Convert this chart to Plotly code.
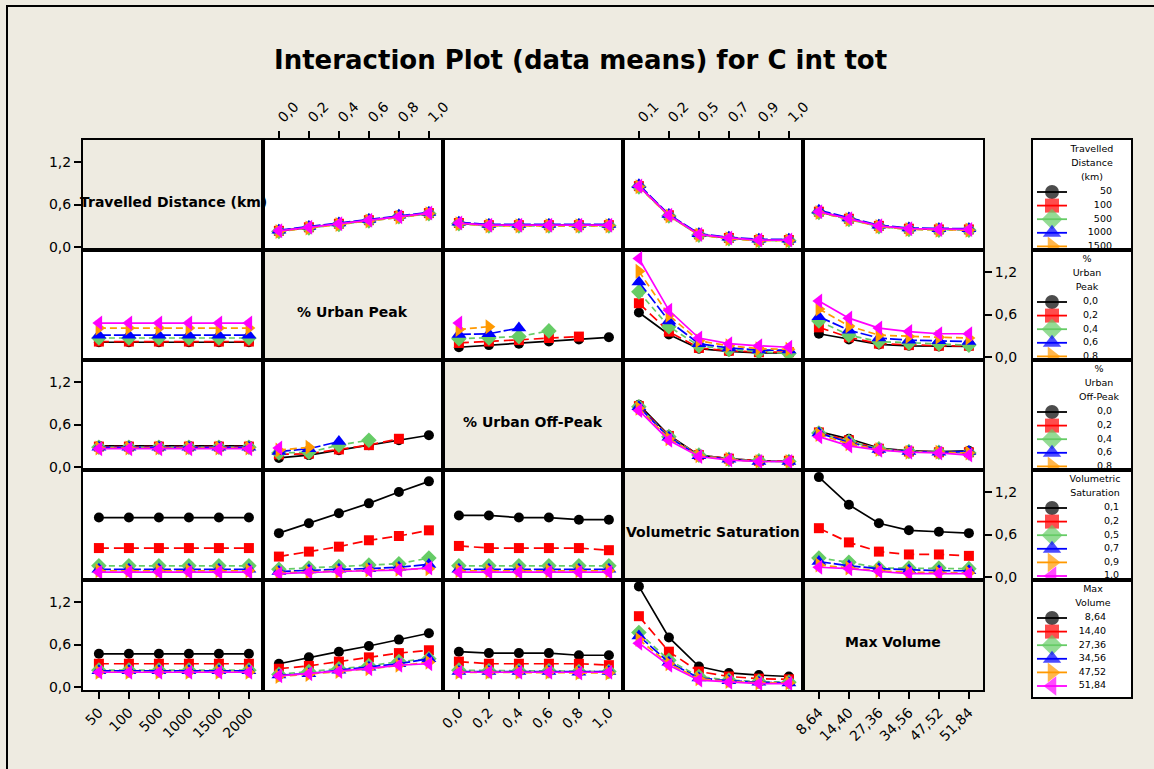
import plotly.graph_objects as go

# ---------------------------------------------------------------- factors
factor_names = ["Travelled Distance (km)", "% Urban Peak", "% Urban Off-Peak",
                "Volumetric Saturation", "Max Volume"]
legend_titles = [["Travelled", "Distance", "(km)"], ["%", "Urban", "Peak"],
                 ["%", "Urban", "Off-Peak"], ["Volumetric", "Saturation"],
                 ["Max", "Volume"]]
distance_levels = ["50", "100", "500", "1000", "1500", "2000"]
peak_levels = ["0,0", "0,2", "0,4", "0,6", "0,8", "1,0"]
offpeak_levels = ["0,0", "0,2", "0,4", "0,6", "0,8", "1,0"]
saturation_levels = ["0,1", "0,2", "0,5", "0,7", "0,9", "1,0"]
volume_levels = ["8,64", "14,40", "27,36", "34,56", "47,52", "51,84"]
levels = [distance_levels, peak_levels, offpeak_levels, saturation_levels, volume_levels]

y_ticks = [0.0, 0.6, 1.2]
y_tick_text = ["0,0", "0,6", "1,2"]

# ------------------------------------------------ means of C int tot
# each array: one row per level of the grouping factor, one value per x level
td_up = [[0.23, 0.28, 0.33, 0.38, 0.43, 0.48], [0.23, 0.28, 0.33, 0.38, 0.44, 0.48],
         [0.22, 0.27, 0.32, 0.37, 0.43, 0.47], [0.24, 0.29, 0.34, 0.39, 0.45, 0.49],
         [0.22, 0.27, 0.32, 0.37, 0.42, 0.47], [0.23, 0.28, 0.33, 0.38, 0.43, 0.48]]
td_uo = [[0.34, 0.31, 0.31, 0.31, 0.31, 0.31], [0.34, 0.31, 0.31, 0.31, 0.31, 0.31],
         [0.33, 0.30, 0.30, 0.30, 0.30, 0.30], [0.35, 0.32, 0.32, 0.32, 0.32, 0.32],
         [0.33, 0.30, 0.30, 0.30, 0.30, 0.30], [0.34, 0.31, 0.31, 0.31, 0.31, 0.31]]
td_vs = [[0.86, 0.45, 0.18, 0.13, 0.10, 0.10], [0.86, 0.45, 0.18, 0.13, 0.10, 0.10],
         [0.85, 0.44, 0.17, 0.12, 0.09, 0.09], [0.88, 0.46, 0.19, 0.14, 0.11, 0.11],
         [0.85, 0.44, 0.17, 0.12, 0.09, 0.09], [0.86, 0.45, 0.18, 0.13, 0.10, 0.10]]
td_mv = [[0.50, 0.40, 0.30, 0.26, 0.25, 0.25], [0.50, 0.40, 0.30, 0.26, 0.25, 0.25],
         [0.49, 0.39, 0.29, 0.25, 0.24, 0.24], [0.52, 0.41, 0.31, 0.27, 0.26, 0.26],
         [0.49, 0.39, 0.29, 0.25, 0.24, 0.24], [0.50, 0.40, 0.30, 0.26, 0.25, 0.25]]

up_td = [[0.21] * 6, [0.22] * 6, [0.27] * 6, [0.31] * 6, [0.41] * 6, [0.48] * 6]
up_uo = [[0.14, 0.17, 0.19, 0.22, 0.25, 0.28], [0.20, 0.22, 0.24, 0.27, 0.29, None],
         [0.26, 0.27, 0.29, 0.37, None, None], [0.32, 0.33, 0.41, None, None, None],
         [0.39, 0.43, None, None, None, None], [0.48, None, None, None, None, None]]
up_vs = [[0.63, 0.32, 0.12, 0.08, 0.06, 0.06], [0.76, 0.36, 0.13, 0.09, 0.07, 0.07],
         [0.92, 0.43, 0.16, 0.11, 0.08, 0.05], [1.06, 0.51, 0.19, 0.13, 0.10, 0.10],
         [1.21, 0.59, 0.23, 0.16, 0.12, 0.11], [1.39, 0.66, 0.27, 0.19, 0.16, 0.14]]
up_mv = [[0.33, 0.25, 0.18, 0.16, 0.15, 0.15], [0.42, 0.28, 0.19, 0.17, 0.16, 0.16],
         [0.51, 0.31, 0.22, 0.20, 0.19, 0.17], [0.57, 0.38, 0.27, 0.24, 0.23, 0.22],
         [0.68, 0.44, 0.31, 0.29, 0.28, 0.27], [0.79, 0.55, 0.41, 0.36, 0.33, 0.33]]

uo_td = [[0.30] * 6, [0.29] * 6, [0.28] * 6, [0.28] * 6, [0.27] * 6, [0.26] * 6]
uo_up = [[0.13, 0.17, 0.24, 0.31, 0.38, 0.45], [0.18, 0.19, 0.25, 0.31, 0.40, None],
         [0.20, 0.21, 0.31, 0.38, None, None], [0.22, 0.26, 0.36, None, None, None],
         [0.24, 0.28, None, None, None, None], [0.27, None, None, None, None, None]]
uo_vs = [[0.88, 0.45, 0.17, 0.12, 0.09, 0.09], [0.86, 0.44, 0.17, 0.12, 0.09, 0.09],
         [0.85, 0.43, 0.17, 0.11, 0.09, 0.08], [0.85, 0.42, 0.16, 0.11, 0.08, 0.08],
         [0.83, 0.40, 0.16, 0.11, 0.08, 0.08], [0.80, 0.38, 0.15, 0.10, 0.08, 0.08]]
uo_mv = [[0.50, 0.40, 0.27, 0.23, 0.22, 0.23], [0.49, 0.38, 0.26, 0.22, 0.21, 0.21],
         [0.48, 0.36, 0.26, 0.22, 0.21, 0.20], [0.48, 0.35, 0.25, 0.22, 0.21, 0.22],
         [0.46, 0.33, 0.25, 0.21, 0.21, 0.20], [0.43, 0.30, 0.24, 0.21, 0.20, 0.17]]

vs_td = [[0.84] * 6, [0.41] * 6, [0.16] * 6, [0.11] * 6, [0.09] * 6, [0.07] * 6]
vs_up = [[0.62, 0.76, 0.90, 1.04, 1.20, 1.35], [0.29, 0.36, 0.43, 0.52, 0.58, 0.66],
         [0.11, 0.13, 0.15, 0.17, 0.19, 0.27], [0.08, 0.10, 0.11, 0.12, 0.14, 0.18],
         [0.06, 0.07, 0.08, 0.10, 0.11, 0.12], [0.05, 0.07, 0.08, 0.09, 0.10, 0.13]]
vs_uo = [[0.87, 0.87, 0.84, 0.84, 0.81, 0.81], [0.44, 0.41, 0.41, 0.41, 0.41, 0.38],
         [0.16, 0.16, 0.16, 0.16, 0.16, 0.16], [0.11, 0.11, 0.11, 0.11, 0.11, 0.11],
         [0.09, 0.09, 0.09, 0.09, 0.09, 0.09], [0.07, 0.07, 0.07, 0.07, 0.07, 0.07]]
vs_mv = [[1.41, 1.02, 0.76, 0.66, 0.64, 0.62], [0.69, 0.49, 0.36, 0.32, 0.32, 0.30],
         [0.27, 0.21, 0.13, 0.13, 0.13, 0.12], [0.22, 0.16, 0.12, 0.10, 0.09, 0.09],
         [0.17, 0.13, 0.09, 0.07, 0.06, 0.06], [0.14, 0.12, 0.08, 0.05, 0.05, 0.05]]

mv_td = [[0.47] * 6, [0.33] * 6, [0.24] * 6, [0.23] * 6, [0.21] * 6, [0.21] * 6]
mv_up = [[0.33, 0.42, 0.50, 0.58, 0.67, 0.76], [0.26, 0.30, 0.36, 0.42, 0.48, 0.52],
         [0.18, 0.22, 0.26, 0.30, 0.36, 0.40], [0.17, 0.19, 0.24, 0.28, 0.33, 0.40],
         [0.15, 0.18, 0.22, 0.26, 0.31, 0.35], [0.16, 0.19, 0.22, 0.26, 0.31, 0.33]]
mv_uo = [[0.50, 0.48, 0.48, 0.48, 0.45, 0.45], [0.36, 0.33, 0.33, 0.33, 0.33, 0.31],
         [0.24, 0.23, 0.23, 0.23, 0.22, 0.22], [0.22, 0.22, 0.22, 0.22, 0.21, 0.22],
         [0.21, 0.21, 0.21, 0.21, 0.20, 0.20], [0.21, 0.21, 0.21, 0.21, 0.20, 0.21]]
mv_vs = [[1.42, 0.70, 0.29, 0.20, 0.17, 0.15], [1.00, 0.50, 0.22, 0.15, 0.12, 0.11],
         [0.77, 0.38, 0.15, 0.10, 0.08, 0.07], [0.72, 0.35, 0.13, 0.09, 0.07, 0.06],
         [0.67, 0.33, 0.12, 0.08, 0.06, 0.06], [0.62, 0.31, 0.10, 0.07, 0.05, 0.05]]

panel_means = {
    (0, 1): td_up, (0, 2): td_uo, (0, 3): td_vs, (0, 4): td_mv,
    (1, 0): up_td, (1, 2): up_uo, (1, 3): up_vs, (1, 4): up_mv,
    (2, 0): uo_td, (2, 1): uo_up, (2, 3): uo_vs, (2, 4): uo_mv,
    (3, 0): vs_td, (3, 1): vs_up, (3, 2): vs_uo, (3, 4): vs_mv,
    (4, 0): mv_td, (4, 1): mv_up, (4, 2): mv_uo, (4, 3): mv_vs,
}

# ---------------------------------------------------------------- styling
W, H = 1154, 769
BEIGE = "#EEEBE1"
colors = ["#000000", "#FF0000", "#66CC66", "#0000FF", "#FF9900", "#FF00FF"]
symbols = ["circle", "square", "diamond", "triangle-up", "triangle-right", "triangle-left"]
dashes = ["solid", "10px,5px", "6px,4px", "12px,3px", "7px,4px", "solid"]
plot_sizes = [10, 10, 12, 13, 13, 13]
legend_sizes = [14, 14, 16, 16, 17, 17]

GRID_LEFT, GRID_TOP, CELL_W, CELL_H = 83, 140, 180, 110
LEG_LEFT, LEG_RIGHT = 1033, 1131
legend_label_right = [79, 65, 79, 86, 73]
legend_title_center = [59, 54, 66, 62, 60]
TICK_FONT = dict(family="DejaVu Sans", size=14, color="black")
LEGEND_FONT = dict(family="DejaVu Sans", size=9.5, color="black")


def px_x(v):
    return v / W


def px_y(v):
    return 1 - v / H


fig = go.Figure()
layout = {}
shapes = []
annotations = []


def axis_names(k):
    return ("xaxis" if k == 1 else f"xaxis{k}",
            "yaxis" if k == 1 else f"yaxis{k}",
            "x" if k == 1 else f"x{k}",
            "y" if k == 1 else f"y{k}")


n = len(factor_names)
for r in range(n):
    for c in range(n):
        k = r * n + c + 1
        xa, ya, xr, yr = axis_names(k)
        x0 = GRID_LEFT + CELL_W * c
        y0 = GRID_TOP + CELL_H * r
        show_x = (r == 0 and c in (1, 3)) or (r == n - 1 and c in (0, 2, 4))
        show_y = (c == 0 and r in (0, 2, 4)) or (c == n - 1 and r in (1, 3))
        layout[xa] = dict(
            domain=[px_x(x0), px_x(x0 + CELL_W)], range=[0.47, 6.47],
            tickvals=list(range(1, 7)), ticktext=levels[c],
            showticklabels=show_x, ticks="outside" if show_x else "",
            side="top" if r == 0 else "bottom", tickangle=-45,
            ticklen=7, tickwidth=2, tickcolor="black", tickfont=TICK_FONT,
            showline=True, mirror=True, linecolor="black", linewidth=2,
            showgrid=False, zeroline=False, anchor=yr, fixedrange=True,
            automargin=False)
        layout[ya] = dict(
            domain=[px_y(y0 + CELL_H), px_y(y0)], range=[-0.04, 1.51],
            tickvals=y_ticks, ticktext=y_tick_text,
            showticklabels=show_y, ticks="outside" if show_y else "",
            side="right" if c == n - 1 else "left",
            ticklen=7, tickwidth=2, tickcolor="black", tickfont=TICK_FONT,
            showline=True, mirror=True, linecolor="black", linewidth=2,
            showgrid=False, zeroline=False, anchor=xr, fixedrange=True,
            automargin=False)

        if r == c:
            # diagonal cell: beige name panel (empty trace keeps its axes drawn)
            fig.add_trace(go.Scatter(x=[], y=[], xaxis=xr, yaxis=yr,
                                     mode="markers", showlegend=False, hoverinfo="skip"))
            shapes.append(dict(type="rect", xref="paper", yref="paper",
                               x0=px_x(x0), x1=px_x(x0 + CELL_W),
                               y0=px_y(y0 + CELL_H), y1=px_y(y0),
                               fillcolor=BEIGE, line=dict(width=0), layer="below"))
            annotations.append(dict(text=f"<b>{factor_names[r]}</b>",
                                    xref="paper", yref="paper",
                                    x=px_x(x0 + CELL_W / 2), y=px_y(y0 + CELL_H / 2 + 7),
                                    xanchor="center", yanchor="middle", showarrow=False,
                                    font=dict(family="DejaVu Sans", size=14, color="black")))
            continue

        for g, ys in enumerate(panel_means[(r, c)]):
            fig.add_trace(go.Scatter(
                x=list(range(1, 7)), y=ys, xaxis=xr, yaxis=yr,
                mode="lines+markers", connectgaps=False, showlegend=False,
                line=dict(color=colors[g], width=1.7, dash=dashes[g]),
                marker=dict(symbol=symbols[g], size=plot_sizes[g], color=colors[g],
                            line=dict(width=0)),
                hoverinfo="skip"))

# ------------------------------------------------------- legend boxes
for r in range(n):
    k = n * n + r + 1
    xa, ya, xr, yr = axis_names(k)
    top = GRID_TOP + CELL_H * r
    bottom = top + CELL_H if r < n - 1 else top + CELL_H + 7
    box_h = bottom - top
    layout[xa] = dict(domain=[px_x(LEG_LEFT), px_x(LEG_RIGHT)],
                      range=[0, LEG_RIGHT - LEG_LEFT], visible=True,
                      showticklabels=False, ticks="", showgrid=False, zeroline=False,
                      showline=True, mirror=True, linecolor="black", linewidth=2,
                      anchor=yr, fixedrange=True, automargin=False)
    layout[ya] = dict(domain=[px_y(bottom), px_y(top)], range=[box_h, 0],
                      showticklabels=False, ticks="", showgrid=False, zeroline=False,
                      showline=True, mirror=True, linecolor="black", linewidth=2,
                      anchor=xr, fixedrange=True, automargin=False)

    titles = legend_titles[r]
    title_y = [10 + 14 * i for i in range(len(titles))]
    fig.add_trace(go.Scatter(
        x=[legend_title_center[r]] * len(titles), y=title_y, text=titles,
        mode="text", textposition="middle center", cliponaxis=True,
        textfont=LEGEND_FONT, xaxis=xr, yaxis=yr, showlegend=False, hoverinfo="skip"))

    item_y = [10 + 14 * len(titles) + 13.6 * i for i in range(6)]
    for g in range(6):
        fig.add_trace(go.Scatter(
            x=[4, 19, 34], y=[item_y[g]] * 3, xaxis=xr, yaxis=yr,
            mode="lines+markers", cliponaxis=True, showlegend=False,
            line=dict(color=colors[g], width=1.8),
            marker=dict(symbol=symbols[g], size=[0, legend_sizes[g], 0],
                        color=colors[g], line=dict(width=0)),
            hoverinfo="skip"))
    fig.add_trace(go.Scatter(
        x=[legend_label_right[r]] * 6, y=item_y, text=levels[r],
        mode="text", textposition="middle left", cliponaxis=True,
        textfont=LEGEND_FONT, xaxis=xr, yaxis=yr, showlegend=False, hoverinfo="skip"))

# outer frame
shapes.append(dict(type="rect", xref="paper", yref="paper",
                   x0=px_x(7), x1=px_x(W + 10), y0=px_y(H + 10), y1=px_y(6),
                   line=dict(color="black", width=2), fillcolor="rgba(0,0,0,0)",
                   layer="below"))

annotations.append(dict(text="<b>Interaction Plot (data means) for C int tot</b>",
                        xref="paper", yref="paper", x=px_x(580), y=px_y(60),
                        showarrow=False, xanchor="center", yanchor="middle",
                        font=dict(family="DejaVu Sans", size=26, color="black")))

fig.update_layout(
    width=W, height=H,
    margin=dict(l=0, r=0, t=0, b=0, pad=0, autoexpand=False),
    paper_bgcolor=BEIGE, plot_bgcolor="white",
    shapes=shapes, annotations=annotations, showlegend=False,
    **layout)

fig.write_html("out.html", config={"displayModeBar": False})
